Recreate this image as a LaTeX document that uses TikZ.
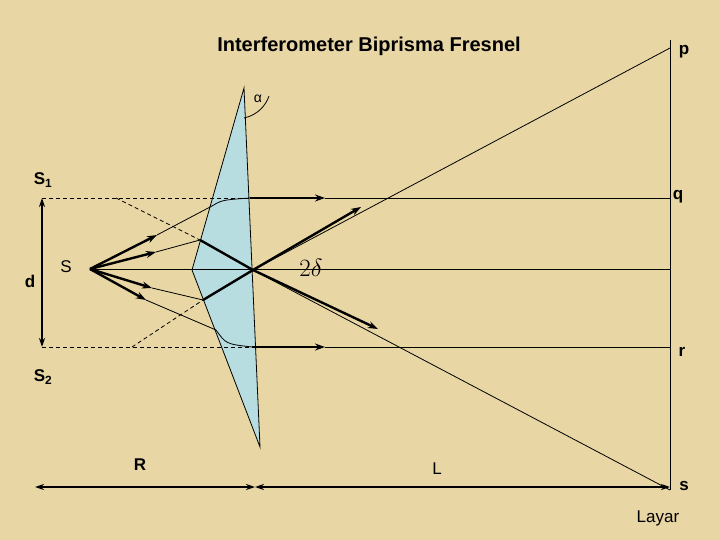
\documentclass[tikz,border=0pt]{standalone}
\usepackage{fontspec}
\setmainfont{Liberation Sans}
\usetikzlibrary{arrows.meta}
\begin{document}
\begin{tikzpicture}[x=1pt,y=-1pt,
  thin line/.style={line width=0.8pt},
  thick ray/.style={line width=2.4pt,-{Stealth[length=10pt,width=7pt]}},
  dash line/.style={line width=0.8pt,dash pattern=on 4pt off 3pt},
  lbl/.style={font=\fontsize{17}{19}\selectfont\bfseries},
  dim/.style={line width=2pt,{Stealth[length=9pt,width=6pt]}-{Stealth[length=9pt,width=6pt]}}]
\fill[fill={rgb,255:red,232;green,214;blue,164}] (0,0) rectangle (720,540);
\useasboundingbox (0,0) rectangle (720,540);
% coordinates
\coordinate (S) at (90,269);
\coordinate (A) at (244,88);
\coordinate (B) at (192,270);
\coordinate (C) at (260,447);
\coordinate (X) at (253,270);
\coordinate (T1) at (212,206);
\coordinate (T2) at (250,198);
\coordinate (U1) at (200,240);
\coordinate (D1) at (203,300);
\coordinate (B1) at (216,330);
\coordinate (B2) at (252,347);
\coordinate (Vt) at (670,40);
\coordinate (Vb) at (670,490);
% prism
\draw[thin line,fill={rgb,255:red,183;green,221;blue,225}] (A) -- (B) -- (C) -- cycle;
% central line and screen
\draw[thin line] (S) -- (670,269);
\draw[thin line] (Vt) -- (Vb);
\draw[thin line] (X) -- (670,48);
\draw[thin line] (X) -- (Vb);
% dashed
\draw[dash line] (42,198) -- (T2);
\draw[dash line] (42,347) -- (B2);
\draw[dash line] (116,198) -- (U1);
\draw[dash line] (132,347) -- (D1);
% ray 1
\draw[thick ray] (S) -- (157,235);
\draw[thin line] (157,235) -- (T1) .. controls (222,200) .. (T2);
\draw[thick ray] (T2) -- (325,198);
\draw[thin line] (325,198) -- (670,198);
% ray 4
\draw[thick ray] (S) -- (146,300);
\draw[thin line] (146,300) -- (B1) .. controls (226,344) .. (B2);
\draw[thick ray] (B2) -- (325,347);
\draw[thin line] (325,347) -- (670,347);
% ray 2
\draw[thick ray] (S) -- (156,252);
\draw[thin line] (156,252) -- (U1);
\draw[line width=2.4pt] (U1) -- (X);
\draw[thick ray] (X) -- (378,329);
% ray 3
\draw[thick ray] (S) -- (152,288);
\draw[thin line] (152,288) -- (D1);
\draw[line width=2.4pt] (D1) -- (X);
\draw[thick ray] (X) -- (361,207);
% alpha arc
\draw[thin line] (244,118) .. controls (258,115) and (266,105) .. (269,96);
% dimension arrows
\draw[dim] (42,198) -- (42,347);
\draw[dim] (35,487) -- (255,487);
\draw[dim] (255,487) -- (670,487);
% labels
\node[font=\fontsize{20}{23}\selectfont\bfseries] (title) at (369,46) {Interferometer Biprisma Fresnel};
\node[lbl] (p) at (684,52) {p};
\node[lbl] (q) at (678,197) {q};
\node[lbl] (r) at (682,352) {r};
\node[lbl] (s) at (684,486) {s};
\node[font=\fontsize{17}{19}\selectfont] (layar) at (658,518) {Layar};
\node[lbl] (S1) at (43,180) {S$_{\mathbf 1}$};
\node[lbl] (S2) at (43,377) {S$_{\mathbf 2}$};
\node[lbl] (d) at (30,281) {d};
\node[font=\fontsize{17}{19}\selectfont] (Sl) at (66,267) {S};
\node[font=\fontsize{24}{26}\selectfont] (del) at (311,268) {$2\delta$};
\node[font=\fontsize{14}{16}\selectfont] (al) at (258,99) {α};
\node[lbl] (R) at (140,465) {R};
\node[font=\fontsize{17}{19}\selectfont] (L) at (437,469) {L};
\end{tikzpicture}
\end{document}
